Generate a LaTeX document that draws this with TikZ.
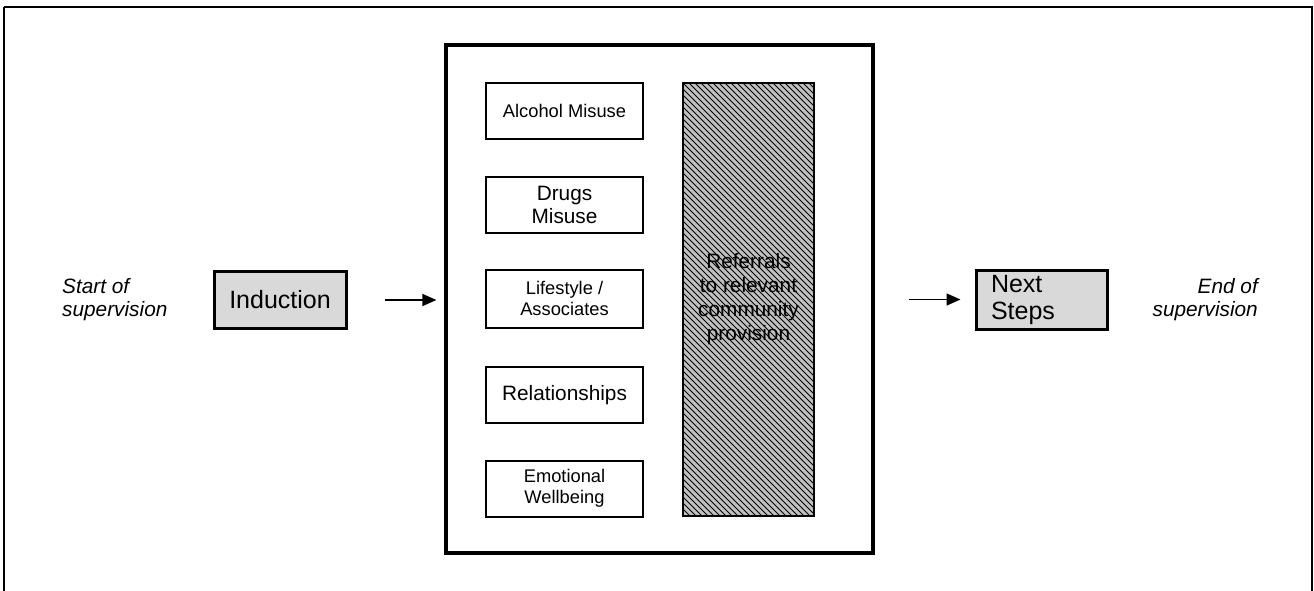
\documentclass[tikz,border=0pt]{standalone}
\usepackage{fontspec}
\setmainfont{Liberation Sans}
\usetikzlibrary{arrows.meta}
\definecolor{boxgray}{HTML}{D9D9D9}
\definecolor{hatchgray}{HTML}{C0C0C0}
\begin{document}
\begin{tikzpicture}[x=1pt,y=-1pt,
  inbox/.style={draw, line width=2pt, minimum width=157pt, minimum height=56pt, align=center, inner sep=0pt},
  graybox/.style={draw, line width=3pt, fill=boxgray, inner sep=0pt, minimum height=57pt, minimum width=132pt},
  arr/.style={line width=1.6pt, -{Triangle[length=14pt,width=12pt]}},
  ftwelve/.style={font=\fontsize{25}{27}\selectfont},
  ften/.style={font=\fontsize{20.8}{23}\selectfont},
  fnine/.style={font=\fontsize{18.3}{21}\selectfont},
  side/.style={font=\fontsize{20.8}{23}\selectfont\itshape, inner sep=0pt}
]
\useasboundingbox (0,0) rectangle (1314,590);
% outer frame
\draw[line width=1.2pt] (4,591) -- (4,7);
\draw[line width=2.5pt] (4,7) -- (1312,7) -- (1312,591);

% central box
\node[draw, line width=3.2pt, minimum width=427pt, minimum height=508pt, inner sep=0pt] (mid) at (659.5,299) {};

% left side
\node[side, align=left, anchor=west] (start) at (62,300) {Start of\\supervision};
\node[graybox, ftwelve] (induction) at (280,300) {Induction};

% right side
\node[graybox, ftwelve, text width=101pt, inner xsep=15pt, align=left, minimum width=131pt, minimum height=59pt] (next) at (1041.5,299.5) {Next\\Steps};
\node[side, align=right, anchor=east] (endsup) at (1258,300) {End of\\supervision};

% inner boxes
\node[inbox, fnine] (alcohol) at (564.5,111) {Alcohol Misuse};
\node[inbox, ften] (drugs) at (564.5,205) {Drugs\\Misuse};
\node[inbox, fnine, minimum height=58pt] (lifestyle) at (564.5,298.5) {Lifestyle /\\Associates};
\node[inbox, ften] (relation) at (564.5,395) {Relationships};
\node[inbox, fnine] (emotional) at (564.5,488.5) {Emotional\\Wellbeing};

% hatched referral box
\begin{scope}
  \clip (683,83) rectangle (814,516);
  \fill[hatchgray] (683,83) rectangle (814,516);
  \foreach \k in {-444,-438,...,138} {
    \draw[line width=0.85pt] (683+\k,83) -- (1116+\k,516);
  }
\end{scope}
\node[draw, line width=2.5pt, minimum width=131pt, minimum height=433pt, inner sep=0pt, align=center, font=\fontsize{20.8}{24}\selectfont] (refer) at (748.5,299.5) {Referrals\\to relevant\\community\\provision};

% arrows
\draw[arr, shorten <=37pt, shorten >=8pt] (induction.east) -- (induction.east -| mid.west);
\draw[arr, shorten <=34pt, shorten >=14pt] (mid.east |- next.west) -- (next.west);
\end{tikzpicture}
\end{document}
